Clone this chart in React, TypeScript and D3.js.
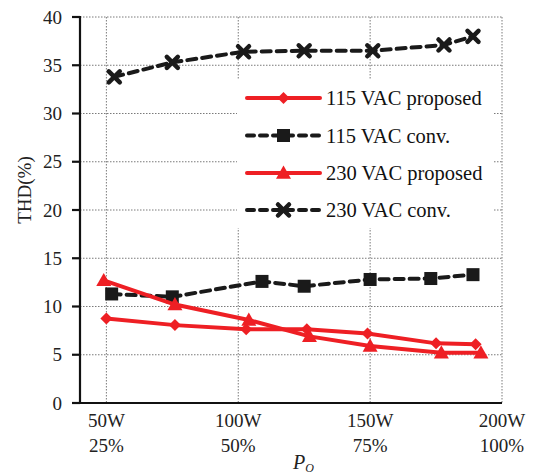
import React from "react";
import * as d3 from "d3";

const xTickValues = [50, 100, 150, 200];
const xTickWatts = ["50W", "100W", "150W", "200W"];
const xTickPercents = ["25%", "50%", "75%", "100%"];
const yTickValues = [0, 5, 10, 15, 20, 25, 30, 35, 40];

const p115X = [50, 76, 103, 126, 149, 175, 190];
const p115Y = [8.75, 8.07, 7.63, 7.63, 7.2, 6.18, 6.1];
const c115X = [52, 75, 109, 125, 150, 173, 189];
const c115Y = [11.3, 11.0, 12.6, 12.1, 12.8, 12.9, 13.3];
const p230X = [49, 76, 104, 127, 150, 177, 192];
const p230Y = [12.7, 10.2, 8.6, 6.9, 5.9, 5.2, 5.2];
const c230X = [53, 75, 102, 125, 151, 178, 189];
const c230Y = [33.8, 35.3, 36.4, 36.5, 36.5, 37.1, 38.0];

const legendLabels = ["115 VAC proposed", "115 VAC conv.", "230 VAC proposed", "230 VAC conv."];

const RED = "#ee1f24";
const BLACK = "#1a1a1a";
const FONT = "'Liberation Serif', 'Times New Roman', serif";

type Kind = "diamond" | "square" | "triangle" | "cross";

function Marker({ kind, x, y, color }: { kind: Kind; x: number; y: number; color: string }) {
  if (kind === "diamond") {
    const s = 6;
    return <path d={`M${x},${y - s}L${x + s},${y}L${x},${y + s}L${x - s},${y}Z`} fill={color} />;
  }
  if (kind === "square") {
    const s = 6.5;
    return <rect x={x - s} y={y - s} width={2 * s} height={2 * s} fill={color} />;
  }
  if (kind === "triangle") {
    const s = 7.5;
    return <path d={`M${x},${y - s}L${x + s},${y + s * 0.75}L${x - s},${y + s * 0.75}Z`} fill={color} />;
  }
  const s = 5.5;
  return (
    <g stroke={color} strokeWidth={4.5} strokeLinecap="round">
      <line x1={x - s} y1={y - s} x2={x + s} y2={y + s} />
      <line x1={x - s} y1={y + s} x2={x + s} y2={y - s} />
    </g>
  );
}

export default function App() {
  const left = 80, right = 502, top = 17, bottom = 403;
  const x = d3.scaleLinear().domain([40, 200]).range([left, right]);
  const y = d3.scaleLinear().domain([0, 40]).range([bottom, top]);

  const series = [
    { xs: p115X, ys: p115Y, color: RED, dash: undefined, kind: "diamond" as Kind },
    { xs: c115X, ys: c115Y, color: BLACK, dash: "9,6", kind: "square" as Kind },
    { xs: p230X, ys: p230Y, color: RED, dash: undefined, kind: "triangle" as Kind },
    { xs: c230X, ys: c230Y, color: BLACK, dash: "9,6", kind: "cross" as Kind },
  ];

  const line = d3
    .line<[number, number]>()
    .x((d) => x(d[0]))
    .y((d) => y(d[1]));

  const legendY = [98, 135.5, 173, 210];

  return (
    <svg
      width={538}
      height={476}
      style={{ position: "absolute", left: 0, top: 0, background: "#fff" }}
      fontFamily={FONT}
    >
      <rect x={0} y={0} width={538} height={476} fill="#fff" />
      {/* grid */}
      <g stroke="#7a7a7a" strokeWidth={1} strokeDasharray="1.5,1.5">
        {yTickValues.filter((v) => v > 0).map((v) => (
          <line key={"gy" + v} x1={left} x2={right} y1={y(v)} y2={y(v)} />
        ))}
        {xTickValues.map((v) => (
          <line key={"gx" + v} x1={x(v)} x2={x(v)} y1={top} y2={bottom} />
        ))}
      </g>
      {/* legend background */}
      <rect x={237} y={80} width={257} height={148} fill="#fff" />
      {/* series */}
      {series.map((s, i) => {
        const pts = s.xs.map((v, j) => [v, s.ys[j]] as [number, number]);
        return (
          <g key={"s" + i}>
            <path
              d={line(pts) || ""}
              fill="none"
              stroke={s.color}
              strokeWidth={4}
              strokeDasharray={s.dash}
              strokeLinecap={s.dash ? "round" : "butt"}
            />
            {pts.map((p, j) => (
              <Marker key={j} kind={s.kind} x={x(p[0])} y={y(p[1])} color={s.color} />
            ))}
          </g>
        );
      })}
      {/* legend */}
      {series.map((s, i) => (
        <g key={"l" + i}>
          <line
            x1={247}
            x2={320}
            y1={legendY[i]}
            y2={legendY[i]}
            stroke={s.color}
            strokeWidth={4}
            strokeDasharray={s.dash ? "7,6" : undefined}
            strokeLinecap="round"
          />
          <Marker kind={s.kind} x={283.5} y={legendY[i]} color={s.color} />
          <text x={326} y={legendY[i]} dy="0.35em" fontSize={20.5} fill="#111">
            {legendLabels[i]}
          </text>
        </g>
      ))}
      {/* axes */}
      <g stroke="#111" strokeWidth={2.2}>
        <line x1={left} x2={left} y1={top - 1} y2={bottom} />
        <line x1={72} x2={right} y1={bottom} y2={bottom} />
        {yTickValues.map((v) => (
          <line key={"t" + v} x1={72} x2={left} y1={y(v)} y2={y(v)} />
        ))}
      </g>
      {yTickValues.map((v) => (
        <text key={"yl" + v} x={62} y={y(v)} dy="0.35em" textAnchor="end" fontSize={19} fill="#222">
          {v}
        </text>
      ))}
      {xTickValues.map((v, i) => (
        <g key={"xl" + v}>
          <text x={x(v)} y={427} textAnchor="middle" fontSize={19} fill="#222">
            {xTickWatts[i]}
          </text>
          <text x={x(v)} y={452} textAnchor="middle" fontSize={19} fill="#222">
            {xTickPercents[i]}
          </text>
        </g>
      ))}
      <text
        transform={`translate(31,${190}) rotate(-90)`}
        textAnchor="middle"
        fontSize={19}
        fill="#222"
      >
        THD(%)
      </text>
      <text x={293} y={469} fontSize={20} fontStyle="italic" fill="#222">
        P
        <tspan fontSize={12} dy={3}>O</tspan>
      </text>
    </svg>
  );
}
